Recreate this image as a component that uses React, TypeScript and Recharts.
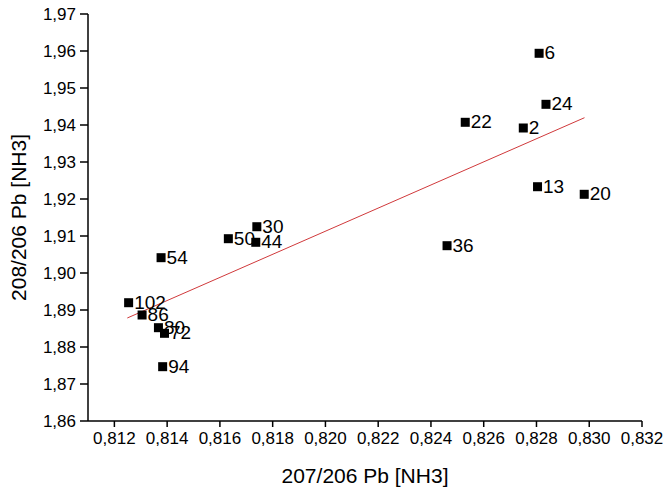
import React from "react";
import { ScatterChart, Scatter, XAxis, YAxis } from "recharts";

const sampleIds = ["102", "86", "80", "72", "94", "54", "50", "30", "44", "36", "22", "2", "6", "24", "13", "20"];
const ratio207 = [0.81254, 0.81305, 0.81367, 0.8139, 0.81383, 0.81377, 0.81632, 0.8174, 0.81736, 0.82461, 0.8253, 0.8275, 0.8281, 0.82836, 0.82804, 0.82981];
const ratio208 = [1.89197, 1.88865, 1.88522, 1.8837, 1.87468, 1.90414, 1.90927, 1.91251, 1.9083, 1.90738, 1.94073, 1.93919, 1.95938, 1.94559, 1.92332, 1.92127];

const fitX = [0.81249, 0.82982];
const fitY = [1.88784, 1.94197];

const xTicks = [0.812, 0.814, 0.816, 0.818, 0.82, 0.822, 0.824, 0.826, 0.828, 0.83, 0.832];
const yTicks = [1.86, 1.87, 1.88, 1.89, 1.9, 1.91, 1.92, 1.93, 1.94, 1.95, 1.96, 1.97];

const points = sampleIds.map((id, i) => ({ id, x: ratio207[i], y: ratio208[i] }));
const fitLine = fitX.map((x, i) => ({ x, y: fitY[i] }));

const FONT = "'Liberation Sans', Arial, sans-serif";

const SquareWithLabel = (props: any) => {
  const { cx, cy, payload } = props;
  if (cx == null || cy == null) return null;
  const s = 9;
  return (
    <g>
      <rect x={cx - s / 2} y={cy - s / 2} width={s} height={s} fill="#000" />
      <text
        x={cx + s / 2 + 1}
        y={cy}
        dy="0.05em"
        fontSize={19}
        fontFamily={FONT}
        fill="#000"
        dominantBaseline="middle"
      >
        {payload.id}
      </text>
    </g>
  );
};

const fmt3 = (v: number) => v.toFixed(3).replace(".", ",");
const fmt2 = (v: number) => v.toFixed(2).replace(".", ",");

export default function App() {
  return (
    <div style={{ position: "absolute", left: 0, top: 0, background: "#fff" }}>
      <ScatterChart
        width={666}
        height={493}
        margin={{ top: 14, right: 24, bottom: 0, left: 0 }}
      >
        <XAxis
          type="number"
          dataKey="x"
          domain={[0.811, 0.832]}
          ticks={xTicks}
          tickFormatter={fmt3}
          allowDataOverflow
          height={72}
          tickSize={6}
          tickMargin={5}
          stroke="#000"
          strokeWidth={1.5}
          tick={{ fill: "#000", fontSize: 17, fontFamily: FONT }}
          label={{
            value: "207/206 Pb [NH3]",
            position: "insideBottom",
            offset: 10,
            fill: "#000",
            fontSize: 21,
            fontFamily: FONT,
          }}
        />
        <YAxis
          type="number"
          dataKey="y"
          domain={[1.86, 1.97]}
          ticks={yTicks}
          tickFormatter={fmt2}
          allowDataOverflow
          width={88}
          tickSize={8}
          tickMargin={4}
          stroke="#000"
          strokeWidth={1.5}
          tick={{ fill: "#000", fontSize: 17, fontFamily: FONT }}
          label={{
            value: "208/206 Pb [NH3]",
            angle: -90,
            position: "insideLeft",
            offset: 19,
            style: { textAnchor: "middle" },
            fill: "#000",
            fontSize: 21,
            fontFamily: FONT,
          }}
        />
        <Scatter
          data={fitLine}
          line={{ stroke: "#d0393b", strokeWidth: 1 }}
          shape={() => null}
          isAnimationActive={false}
        />
        <Scatter data={points} shape={SquareWithLabel} isAnimationActive={false} />
      </ScatterChart>
    </div>
  );
}
